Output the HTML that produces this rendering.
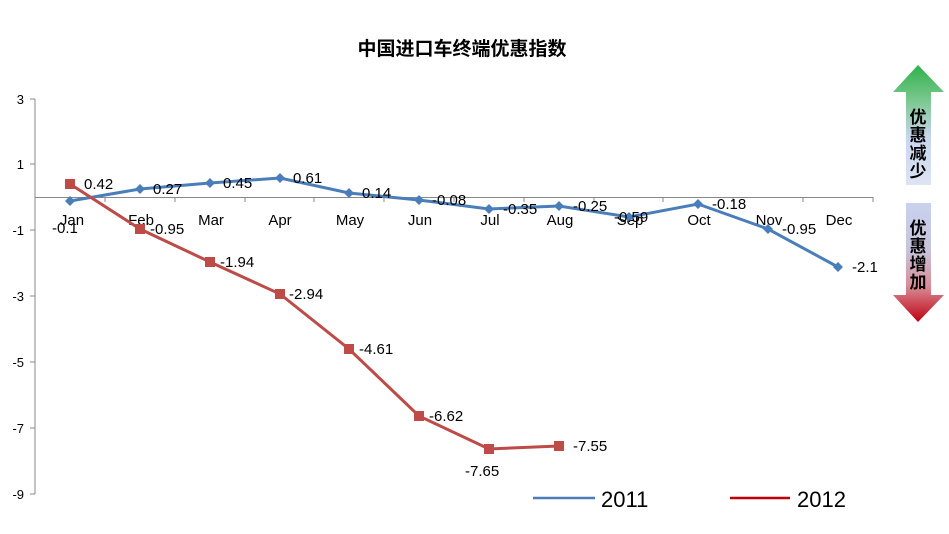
<!DOCTYPE html>
<html><head><meta charset="utf-8"><style>
body{margin:0;background:#fff}
svg text{font-family:"Liberation Sans","Noto Sans CJK SC",sans-serif}
</style></head><body>
<svg width="949" height="529" viewBox="0 0 949 529" xmlns="http://www.w3.org/2000/svg">
<defs>
<linearGradient id="gu" x1="0" y1="0" x2="0" y2="1">
<stop offset="0" stop-color="#2eb24a"/><stop offset="0.3" stop-color="#7cc890"/><stop offset="0.6" stop-color="#c8d6ee"/><stop offset="1" stop-color="#dde4f4"/></linearGradient>
<linearGradient id="gd" x1="0" y1="0" x2="0" y2="1">
<stop offset="0" stop-color="#c8d2ee"/><stop offset="0.4" stop-color="#c8c4dc"/><stop offset="0.7" stop-color="#d88c96"/><stop offset="1" stop-color="#c00010"/></linearGradient>
</defs>
<text x="462" y="55" font-size="19" font-weight="bold" text-anchor="middle" fill="#000">中国进口车终端优惠指数</text>
<g stroke="#888" stroke-width="1">
<line x1="35" y1="99" x2="35" y2="494"/>
<line x1="30" y1="99" x2="35" y2="99"/><line x1="30" y1="164" x2="35" y2="164"/>
<line x1="30" y1="230" x2="35" y2="230"/><line x1="30" y1="296" x2="35" y2="296"/>
<line x1="30" y1="362" x2="35" y2="362"/><line x1="30" y1="428" x2="35" y2="428"/>
<line x1="30" y1="494" x2="35" y2="494"/>
<line x1="35" y1="197.5" x2="873" y2="197.5"/>
<line x1="105" y1="197" x2="105" y2="202"/><line x1="175" y1="197" x2="175" y2="202"/><line x1="245" y1="197" x2="245" y2="202"/><line x1="314" y1="197" x2="314" y2="202"/><line x1="384" y1="197" x2="384" y2="202"/><line x1="454" y1="197" x2="454" y2="202"/><line x1="524" y1="197" x2="524" y2="202"/><line x1="594" y1="197" x2="594" y2="202"/><line x1="663" y1="197" x2="663" y2="202"/><line x1="733" y1="197" x2="733" y2="202"/><line x1="803" y1="197" x2="803" y2="202"/><line x1="873" y1="197" x2="873" y2="202"/>
</g>
<g font-size="13" text-anchor="end" fill="#000">
<text x="24" y="104">3</text><text x="24" y="169">1</text><text x="24" y="235">-1</text><text x="24" y="301">-3</text><text x="24" y="367">-5</text><text x="24" y="433">-7</text><text x="24" y="499">-9</text>
</g>
<g font-size="15" text-anchor="middle" fill="#000">
<text x="72" y="225">Jan</text><text x="141" y="225">Feb</text><text x="211" y="225">Mar</text><text x="280" y="225">Apr</text><text x="350" y="225">May</text><text x="420" y="225">Jun</text><text x="490" y="225">Jul</text><text x="560" y="225">Aug</text><text x="630" y="225">Sep</text><text x="699" y="225">Oct</text><text x="769" y="225">Nov</text><text x="839" y="225">Dec</text>
</g>
<polyline fill="none" stroke="#4a7ebb" stroke-width="3" points="70,201 140,189 210,183 280,178 349,193 419,200 489,209 559,206 629,217 698,204 768,229 838,267"/>
<g fill="#4a7ebb">
<path d="M70,196 l5,5 -5,5 -5,-5z M140,184 l5,5 -5,5 -5,-5z M210,178 l5,5 -5,5 -5,-5z M280,173 l5,5 -5,5 -5,-5z M349,188 l5,5 -5,5 -5,-5z M419,195 l5,5 -5,5 -5,-5z M489,204 l5,5 -5,5 -5,-5z M559,201 l5,5 -5,5 -5,-5z M629,212 l5,5 -5,5 -5,-5z M698,199 l5,5 -5,5 -5,-5z M768,224 l5,5 -5,5 -5,-5z M838,262 l5,5 -5,5 -5,-5z"/>
</g>
<polyline fill="none" stroke="#be4b48" stroke-width="3" points="70,184 140,229 210,262 280,294 349,349 419,416 489,449 559,446"/>
<g fill="#be4b48">
<rect x="65" y="179" width="10" height="10"/><rect x="135" y="224" width="10" height="10"/><rect x="205" y="257" width="10" height="10"/><rect x="275" y="289" width="10" height="10"/><rect x="344" y="344" width="10" height="10"/><rect x="414" y="411" width="10" height="10"/><rect x="484" y="444" width="10" height="10"/><rect x="554" y="441" width="10" height="10"/>
</g>
<g font-size="15" fill="#000">
<text x="52" y="233">-0.1</text><text x="153" y="194">0.27</text><text x="223" y="188">0.45</text><text x="293" y="183">0.61</text><text x="362" y="198">0.14</text><text x="432" y="205">-0.08</text><text x="503" y="214">-0.35</text><text x="573" y="211">-0.25</text><text x="614" y="222">-0.59</text><text x="712" y="209">-0.18</text><text x="782" y="234">-0.95</text><text x="852" y="272">-2.1</text>
<text x="84" y="189">0.42</text><text x="150" y="234">-0.95</text><text x="220" y="267">-1.94</text><text x="289" y="299">-2.94</text><text x="359" y="354">-4.61</text><text x="429" y="421">-6.62</text><text x="465" y="476">-7.65</text><text x="573" y="451">-7.55</text>
</g>
<line x1="533" y1="498" x2="595" y2="498" stroke="#4a7ebb" stroke-width="2.5"/>
<text x="601" y="507" font-size="22" fill="#000">2011</text>
<line x1="730" y1="498" x2="790" y2="498" stroke="#c00000" stroke-width="2.5"/>
<text x="797" y="507" font-size="22" fill="#000">2012</text>
<path d="M918,65 L944,92 L931,92 L931,185 L906,185 L906,92 L893,92 Z" fill="url(#gu)"/>
<path d="M906,203 L931,203 L931,295 L944,295 L918,322 L893,295 L906,295 Z" fill="url(#gd)"/>
<g font-size="17" font-weight="bold" text-anchor="middle" fill="#000">
<text x="918" y="123">优</text><text x="918" y="141">惠</text><text x="918" y="159">减</text><text x="918" y="177">少</text>
<text x="918" y="234">优</text><text x="918" y="252">惠</text><text x="918" y="270">增</text><text x="918" y="288">加</text>
</g>
</svg>
</body></html>
